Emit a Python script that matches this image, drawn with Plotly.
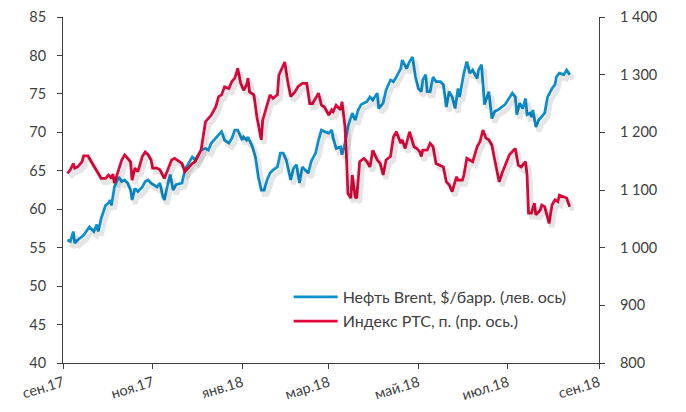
import plotly.graph_objects as go
import pandas as pd

# ---------------- data ----------------
brent_dates = [
    "2017-09-04","2017-09-06","2017-09-08","2017-09-09","2017-09-11","2017-09-15","2017-09-19","2017-09-22",
    "2017-09-24","2017-09-25","2017-09-27","2017-09-30","2017-10-02","2017-10-03","2017-10-04","2017-10-05",
    "2017-10-06","2017-10-09","2017-10-11","2017-10-13","2017-10-15","2017-10-17","2017-10-18","2017-10-20",
    "2017-10-22","2017-10-25","2017-10-27","2017-10-29","2017-10-31","2017-11-04","2017-11-06","2017-11-08",
    "2017-11-09","2017-11-12","2017-11-13","2017-11-15","2017-11-17","2017-11-21","2017-11-23","2017-11-25",
    "2017-11-28","2017-11-30","2017-12-02","2017-12-04","2017-12-07","2017-12-09","2017-12-11","2017-12-14",
    "2017-12-16","2017-12-18","2017-12-20","2017-12-23","2017-12-25","2017-12-27","2017-12-29","2018-01-01",
    "2018-01-02","2018-01-04","2018-01-05","2018-01-08","2018-01-10","2018-01-12","2018-01-14","2018-01-16",
    "2018-01-18","2018-01-20","2018-01-22","2018-01-25","2018-01-27","2018-01-29","2018-01-31","2018-02-03",
    "2018-02-05","2018-02-07","2018-02-09","2018-02-11","2018-02-13","2018-02-15","2018-02-17","2018-02-20",
    "2018-02-22","2018-02-24","2018-02-26","2018-03-01","2018-03-03","2018-03-04","2018-03-06","2018-03-09",
    "2018-03-10","2018-03-12","2018-03-14","2018-03-17","2018-03-19","2018-03-21","2018-03-23","2018-03-27",
    "2018-03-29","2018-03-31","2018-04-03","2018-04-04","2018-04-07","2018-04-09","2018-04-12","2018-04-14",
    "2018-04-16","2018-04-19","2018-04-20","2018-04-23","2018-04-25","2018-04-27","2018-04-29","2018-05-01",
    "2018-05-03","2018-05-04","2018-05-06","2018-05-07","2018-05-09","2018-05-11","2018-05-13","2018-05-16",
    "2018-05-18","2018-05-20","2018-05-22","2018-05-24","2018-05-26","2018-05-28","2018-05-29","2018-06-01",
    "2018-06-03","2018-06-05","2018-06-07","2018-06-10","2018-06-11","2018-06-13","2018-06-15","2018-06-18",
    "2018-06-20","2018-06-22","2018-06-24","2018-06-27","2018-06-29","2018-07-01","2018-07-04","2018-07-06",
    "2018-07-07","2018-07-09","2018-07-11","2018-07-13","2018-07-14","2018-07-16","2018-07-17","2018-07-18",
    "2018-07-20","2018-07-22","2018-07-24","2018-07-26","2018-07-28","2018-07-31","2018-08-02","2018-08-03",
    "2018-08-05","2018-08-08","2018-08-10","2018-08-12",
]
brent_values = [
    56.0, 55.8, 57.1, 55.6, 56.0, 56.6, 57.7, 57.1,
    58.0, 57.1, 58.8, 60.5, 60.8, 61.2, 60.5, 61.6,
    62.9, 64.2, 63.6, 63.8, 63.4, 62.5, 61.2, 62.7,
    62.3, 62.9, 63.6, 63.8, 63.4, 62.9, 63.4, 61.6,
    61.2, 63.8, 64.5, 62.5, 63.2, 63.4, 65.1, 65.8,
    66.8, 66.4, 67.1, 67.7, 67.9, 67.7, 68.6, 69.2,
    69.7, 70.1, 69.0, 68.6, 69.2, 70.3, 70.3, 69.0,
    69.4, 69.0, 69.4, 68.1, 66.8, 64.2, 62.5, 62.5,
    63.8, 64.7, 65.1, 65.5, 67.3, 67.3, 66.4, 63.8,
    65.3, 65.8, 63.4, 65.5, 65.1, 64.7, 66.2, 67.3,
    69.0, 70.3, 70.1, 69.9, 70.3, 69.2, 67.9, 68.1,
    67.1, 68.6, 70.7, 72.5, 71.6, 72.9, 73.6, 74.0,
    74.6, 74.2, 75.1, 73.1, 73.8, 75.5, 76.8, 76.6,
    77.2, 78.3, 79.4, 78.3, 79.2, 79.8, 77.2, 75.7,
    75.3, 76.8, 77.5, 75.3, 75.3, 77.2, 76.6, 76.6,
    76.2, 73.3, 75.3, 74.6, 73.1, 75.7, 74.6, 77.7,
    79.2, 77.7, 78.1, 77.0, 78.1, 78.8, 73.6, 75.3,
    71.8, 72.7, 72.9, 73.3, 73.6, 74.2, 75.1, 74.6,
    72.3, 73.8, 73.1, 74.4, 72.3, 72.5, 72.0, 72.9,
    70.7, 71.6, 72.0, 72.5, 74.6, 75.7, 76.2, 77.2,
    77.7, 77.5, 78.1, 77.5,
]

rts_dates = [
    "2017-09-04","2017-09-06","2017-09-08","2017-09-09","2017-09-11","2017-09-14","2017-09-15","2017-09-18",
    "2017-09-21","2017-09-23","2017-09-25","2017-09-27","2017-09-30","2017-10-02","2017-10-04","2017-10-05",
    "2017-10-06","2017-10-09","2017-10-11","2017-10-13","2017-10-15","2017-10-17","2017-10-18","2017-10-20",
    "2017-10-22","2017-10-25","2017-10-27","2017-10-29","2017-10-31","2017-11-01","2017-11-04","2017-11-06",
    "2017-11-09","2017-11-12","2017-11-14","2017-11-16","2017-11-19","2017-11-21","2017-11-23","2017-11-25",
    "2017-11-28","2017-11-30","2017-12-02","2017-12-04","2017-12-07","2017-12-09","2017-12-11","2017-12-14",
    "2017-12-16","2017-12-18","2017-12-20","2017-12-23","2017-12-25","2017-12-27","2017-12-29","2017-12-31",
    "2018-01-02","2018-01-04","2018-01-05","2018-01-06","2018-01-09","2018-01-11","2018-01-14","2018-01-15",
    "2018-01-18","2018-01-20","2018-01-22","2018-01-25","2018-01-26","2018-01-30","2018-02-01","2018-02-03",
    "2018-02-06","2018-02-08","2018-02-11","2018-02-14","2018-02-16","2018-02-18","2018-02-22","2018-02-24",
    "2018-02-26","2018-03-01","2018-03-03","2018-03-04","2018-03-06","2018-03-09","2018-03-10","2018-03-12",
    "2018-03-13","2018-03-14","2018-03-16","2018-03-17","2018-03-19","2018-03-20","2018-03-22","2018-03-25",
    "2018-03-27","2018-03-29","2018-03-31","2018-04-03","2018-04-05","2018-04-07","2018-04-09","2018-04-12",
    "2018-04-14","2018-04-16","2018-04-19","2018-04-20","2018-04-22","2018-04-24","2018-04-25","2018-04-28",
    "2018-04-30","2018-05-02","2018-05-03","2018-05-04","2018-05-07","2018-05-09","2018-05-11","2018-05-13",
    "2018-05-16","2018-05-18","2018-05-20","2018-05-22","2018-05-24","2018-05-27","2018-05-28","2018-05-31",
    "2018-06-01","2018-06-03","2018-06-05","2018-06-07","2018-06-10","2018-06-12","2018-06-14","2018-06-16",
    "2018-06-18","2018-06-20","2018-06-22","2018-06-25","2018-06-27","2018-06-29","2018-07-02","2018-07-06",
    "2018-07-08","2018-07-10","2018-07-13","2018-07-14","2018-07-15","2018-07-17","2018-07-19","2018-07-20",
    "2018-07-23","2018-07-24","2018-07-26","2018-07-29","2018-07-31","2018-08-02","2018-08-04","2018-08-05",
    "2018-08-08","2018-08-10","2018-08-12",
]
rts_values = [
    1129, 1135, 1146, 1138, 1140, 1149, 1159, 1159,
    1146, 1138, 1129, 1120, 1120, 1126, 1120, 1128,
    1112, 1135, 1152, 1161, 1155, 1149, 1117, 1138,
    1132, 1158, 1166, 1161, 1152, 1138, 1138, 1135,
    1120, 1138, 1152, 1155, 1149, 1146, 1132, 1138,
    1146, 1149, 1158, 1169, 1218, 1224, 1230, 1244,
    1262, 1265, 1279, 1276, 1288, 1294, 1311, 1285,
    1273, 1282, 1294, 1270, 1265, 1227, 1187, 1221,
    1250, 1265, 1259, 1265, 1299, 1322, 1288, 1262,
    1270, 1279, 1285, 1285, 1250, 1250, 1268, 1247,
    1244, 1230, 1239, 1236, 1247, 1239, 1253, 1210,
    1158, 1094, 1086, 1126, 1088, 1086, 1149, 1155,
    1149, 1140, 1169, 1152, 1146, 1126, 1152, 1158,
    1192, 1201, 1181, 1187, 1172, 1190, 1201, 1175,
    1172, 1166, 1158, 1169, 1169, 1181, 1175, 1146,
    1143, 1140, 1114, 1109, 1097, 1123, 1117, 1117,
    1126, 1155, 1152, 1149, 1175, 1184, 1204, 1190,
    1187, 1178, 1152, 1114, 1129, 1143, 1161, 1172,
    1143, 1140, 1149, 1126, 1060, 1060, 1077, 1057,
    1065, 1074, 1071, 1042, 1074, 1083, 1080, 1091,
    1088, 1086, 1071,
]

x_tick_dates = ["2017-09-01","2017-11-01","2018-01-01","2018-03-01","2018-05-01","2018-07-01","2018-09-01"]
x_tick_labels = ["сен.17","ноя.17","янв.18","мар.18","май.18","июл.18","сен.18"]
left_ticks = [40, 45, 50, 55, 60, 65, 70, 75, 80, 85]
right_ticks = [800, 900, 1000, 1100, 1200, 1300, 1400]
right_tick_labels = ["800", "900", "1 000", "1 100", "1 200", "1 300", "1 400"]

brent_name = "Нефть Brent, $/барр. (лев. ось)"
rts_name = "Индекс РТС, п. (пр. ось.)"

# ---------------- style ----------------
BLUE = "#0C8FCF"
RED = "#E1063A"
AX = "#404040"
FONT = "Lato, 'Open Sans', sans-serif"

x_range = [pd.Timestamp("2017-09-01"), pd.Timestamp("2018-09-01")]
shift = pd.Timedelta(days=2)

fig = go.Figure()

# soft shadows (same data on slightly offset overlay axes)
fig.add_trace(go.Scatter(x=pd.to_datetime(brent_dates), y=brent_values, mode="lines",
                         line=dict(color="rgba(0,0,0,0.10)", width=5), xaxis="x2", yaxis="y3",
                         showlegend=False, hoverinfo="skip"))
fig.add_trace(go.Scatter(x=pd.to_datetime(rts_dates), y=rts_values, mode="lines",
                         line=dict(color="rgba(0,0,0,0.10)", width=5), xaxis="x2", yaxis="y4",
                         showlegend=False, hoverinfo="skip"))

fig.add_trace(go.Scatter(x=pd.to_datetime(brent_dates), y=brent_values, mode="lines", name=brent_name,
                         line=dict(color=BLUE, width=2.75), legend="legend"))
fig.add_trace(go.Scatter(x=pd.to_datetime(rts_dates), y=rts_values, mode="lines", name=rts_name,
                         line=dict(color=RED, width=2.75), yaxis="y2", legend="legend2"))

axis_common = dict(showgrid=False, zeroline=False, showline=True, linecolor=AX, linewidth=1,
                   ticks="outside", ticklen=5, tickcolor=AX, tickwidth=1,
                   tickfont=dict(family=FONT, size=14.5, color=AX))

legend_font = dict(family=FONT, size=16, color=AX)

# page body has an 8px default margin, so the figure is sized to fit the 686x412 window
fig.update_layout(
    width=678, height=404,
    margin=dict(l=55, r=87, t=9, b=49, autoexpand=False),
    paper_bgcolor="white", plot_bgcolor="white",
    font=dict(family=FONT, size=14, color=AX),
    xaxis=dict(range=x_range, type="date", tickvals=pd.to_datetime(x_tick_dates), ticktext=x_tick_labels,
               tickangle=-17, automargin=False, **axis_common),
    xaxis2=dict(range=[x_range[0] - shift, x_range[1] - shift], type="date", overlaying="x",
                visible=False),
    yaxis=dict(range=[40, 85], tickvals=left_ticks, automargin=False, ticklabelstandoff=8,
               **axis_common),
    yaxis2=dict(range=[800, 1400], tickvals=right_ticks, ticktext=right_tick_labels,
                overlaying="y", side="right", automargin=False, ticklabelstandoff=12, **axis_common),
    yaxis3=dict(range=[40.55, 85.55], overlaying="y", visible=False),
    yaxis4=dict(range=[807, 1407], overlaying="y", visible=False),
    legend=dict(x=0.421, y=0.191, xanchor="left", yanchor="middle", bgcolor="rgba(0,0,0,0)",
                itemwidth=44, font=legend_font),
    legend2=dict(x=0.421, y=0.121, xanchor="left", yanchor="middle", bgcolor="rgba(0,0,0,0)",
                 itemwidth=44, font=legend_font),
    showlegend=True,
)

fig.write_html("out.html")
